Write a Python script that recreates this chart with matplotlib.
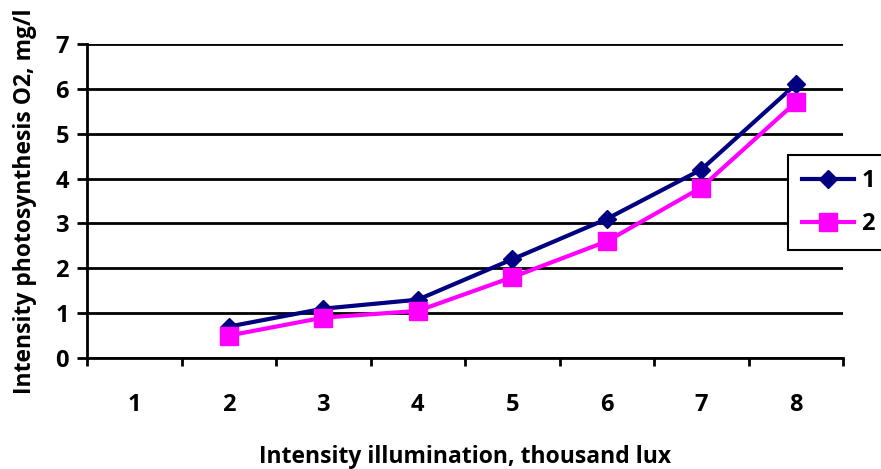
import matplotlib.pyplot as plt
import numpy as np

categories = [1, 2, 3, 4, 5, 6, 7, 8]
series_1 = [np.nan, 0.7, 1.1, 1.3, 2.2, 3.1, 4.2, 6.1]
series_2 = [np.nan, 0.5, 0.9, 1.05, 1.8, 2.6, 3.8, 5.7]
y_ticks = [0, 1, 2, 3, 4, 5, 6, 7]

plt.rcParams.update({"font.family": ["Open Sans", "DejaVu Sans"], "font.weight": "bold",
                     "axes.labelweight": "bold", "font.size": 16.5})
fig = plt.figure(figsize=(8.81, 4.69), dpi=100)
ax = fig.add_axes([87 / 881, 1 - 358 / 469, (843 - 87) / 881, (358 - 44) / 469])

x = np.arange(len(categories))
ax.plot(x, series_1, color="#000080", lw=3, marker="D", ms=9, label="1", zorder=3, clip_on=False)
ax.plot(x, series_2, color="#FF00FF", lw=3, marker="s", ms=13, label="2", zorder=4, clip_on=False)

ax.set_xlim(-0.5, len(categories) - 0.5)
ax.set_ylim(0, 7)
ax.set_yticks(y_ticks)
ax.set_xticks(x, [str(c) for c in categories])
ax.set_xticks(np.arange(len(categories) + 1) - 0.5, minor=True)
ax.tick_params(axis="x", which="major", length=0, pad=25, labelsize=17)
ax.tick_params(axis="x", which="minor", length=6, width=2, direction="out")
ax.tick_params(axis="y", length=7, width=2, pad=6, labelsize=17)
ax.grid(axis="y", color="black", lw=2)
ax.set_axisbelow(True)
for side in ("top", "right"):
    ax.spines[side].set_visible(False)
for side in ("left", "bottom"):
    ax.spines[side].set_linewidth(2)

ax.set_xlabel("Intensity illumination, thousand lux", labelpad=20)
ax.set_ylabel("Intensity photosynthesis O2, mg/l", labelpad=13)

leg = fig.legend(loc="upper left", bbox_to_anchor=(788 / 881, 1 - 155 / 469), frameon=True,
                 fancybox=False, edgecolor="black", framealpha=1, fontsize=17,
                 handlelength=2.2, borderpad=0.6, labelspacing=0.8, handletextpad=0.3,
                 borderaxespad=0)
leg.get_frame().set_linewidth(1.5)

fig.savefig("out.png", dpi=100, facecolor="white")
